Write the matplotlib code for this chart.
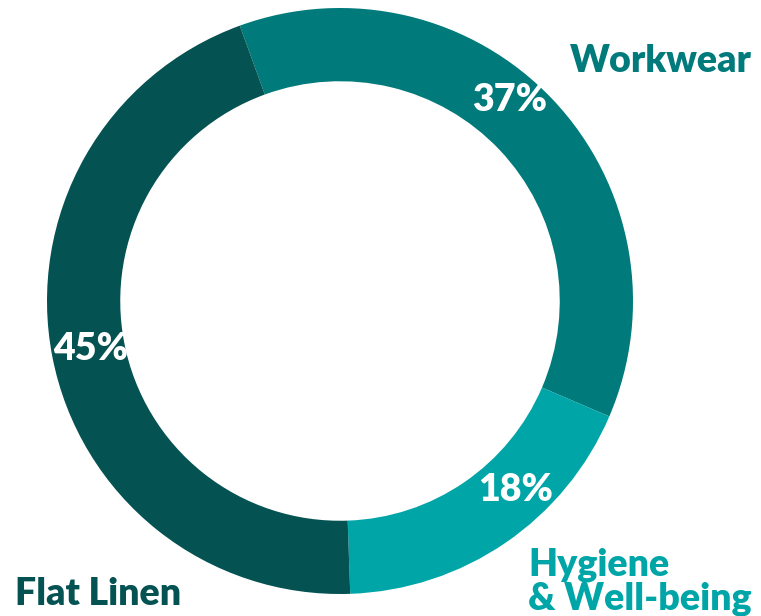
import numpy as np
import matplotlib
matplotlib.use("Agg")
import matplotlib.pyplot as plt

categories = ["Workwear", "Hygiene\n& Well-being", "Flat Linen"]
shares = [37, 18, 45]
pct_labels = ["37%", "18%", "45%"]

colors = ["#007a7a", "#00a5a8", "#055252"]
FONT = ["Lato", "DejaVu Sans"]
WEIGHT = "heavy"

W, H = 761, 616
fig = plt.figure(figsize=(W / 100, H / 100), dpi=100)
ax = fig.add_axes([0, 0, 1, 1])
ax.set_xlim(0, W)
ax.set_ylim(0, H)
ax.set_aspect("equal")
ax.axis("off")

cx, cy, R = 340, 315, 293
ring = 0.25
wedges, _ = ax.pie(shares, colors=colors, startangle=110, counterclock=False,
                   radius=R, center=(cx, cy),
                   wedgeprops=dict(width=R * ring, edgecolor="none"))
ax.set_xlim(0, W)
ax.set_ylim(0, H)

# percentage labels placed along the ring, nudged from wedge mid-angles
nudges = [(6.4, 263), (8.6, 258), (0.0, 254)]
for w, lab, (dth, rr) in zip(wedges, pct_labels, nudges):
    mid = (w.theta1 + w.theta2) / 2 + dth
    x = cx + rr * np.cos(np.deg2rad(mid))
    y = cy + rr * np.sin(np.deg2rad(mid))
    ax.text(x, y, lab, ha="center", va="center", color="white",
            fontsize=27, fontweight=WEIGHT, family=FONT)

# category labels
ax.text(570, H - 72, categories[0], ha="left", va="baseline", color=colors[0],
        fontsize=27, fontweight=WEIGHT, family=FONT)
ax.text(528, H - 610, categories[1], ha="left", va="baseline", color=colors[1],
        fontsize=27, fontweight=WEIGHT, family=FONT, linespacing=1.0)
ax.text(15, H - 605, categories[2], ha="left", va="baseline", color=colors[2],
        fontsize=27, fontweight=WEIGHT, family=FONT)

fig.savefig("out.png", dpi=100)
